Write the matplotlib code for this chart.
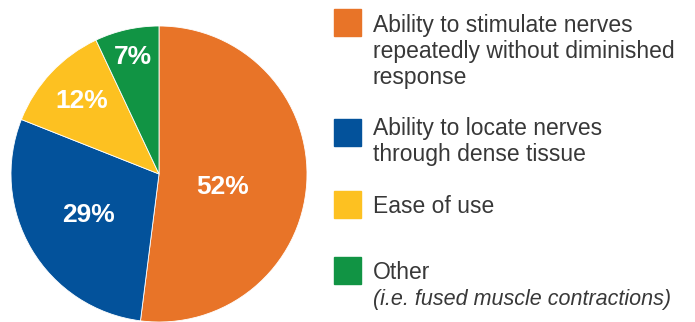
"""Pie chart of most valued nerve stimulator features."""

import numpy as np
import matplotlib.pyplot as plt
from matplotlib.patches import Rectangle

plt.rcParams["font.family"] = ["Liberation Sans", "DejaVu Sans"]

# data
shares = [52, 29, 12, 7]
pct_labels = ["52%", "29%", "12%", "7%"]
legend_lines = [
    ["Ability to stimulate nerves", "repeatedly without diminished", "response"],
    ["Ability to locate nerves", "through dense tissue"],
    ["Ease of use"],
    ["Other", "(i.e. fused muscle contractions)"],
]
colors = ["#E87428", "#03529B", "#FDC121", "#119444"]

# label placement inside the wedges (fraction of radius, angle nudge in deg)
label_radius = [0.44, 0.55, 0.72, 0.81]
label_nudge = [-8, 0, 0, 0]
# legend layout in pixels (first-line baseline, box top)
legend_baselines = [32, 135, 213, 279]
legend_box_tops = [9, 119, 191, 257]

W, H = 695, 322


def main():
    fig = plt.figure(figsize=(W / 100, H / 100), dpi=100)

    cx, cy, r = 159, 174, 148
    ax = fig.add_axes([(cx - r) / W, (H - cy - r) / H, 2 * r / W, 2 * r / H])
    wedges, _ = ax.pie(shares, colors=colors, startangle=90, counterclock=False,
                       wedgeprops=dict(edgecolor="white", linewidth=0.6))
    ax.set_xlim(-1, 1)
    ax.set_ylim(-1, 1)
    ax.set_aspect("equal")
    ax.axis("off")

    for w, lab, rad, nudge in zip(wedges, pct_labels, label_radius, label_nudge):
        ang = np.deg2rad((w.theta1 + w.theta2) / 2 + nudge)
        ax.text(rad * np.cos(ang), rad * np.sin(ang), lab, color="white",
                fontsize=19, fontweight="bold", ha="center", va="center")

    # legend drawn by hand
    box_x, box_w, text_x, line_h = 334, 27, 373, 26
    for lines, col, base, top in zip(legend_lines, colors, legend_baselines,
                                     legend_box_tops):
        fig.patches.append(Rectangle((box_x / W, 1 - (top + box_w) / H),
                                     box_w / W, box_w / H, color=col,
                                     transform=fig.transFigure))
        for k, line in enumerate(lines):
            italic = line.startswith("(")
            fig.text(text_x / W, 1 - (base + k * line_h) / H, line,
                     fontsize=15.5 if italic else 16.5, color="#383838",
                     va="baseline", ha="left",
                     style="italic" if italic else "normal")

    fig.savefig("out.png", dpi=100)


if __name__ == "__main__":
    main()
